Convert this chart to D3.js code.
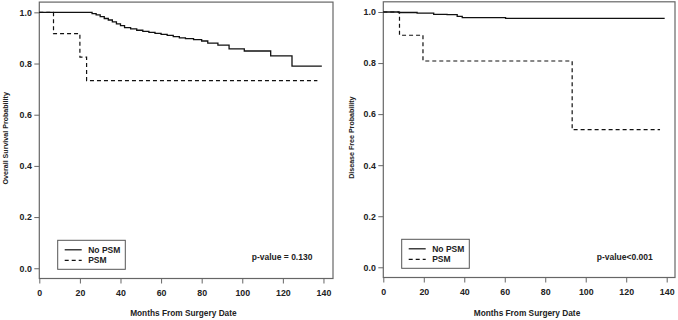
<!DOCTYPE html>
<html>
<head>
<meta charset="utf-8">
<script src="https://cdn.jsdelivr.net/npm/d3@7"></script>
<style>
  body { margin: 0; background: #fff; }
  svg { font-family: "Liberation Sans", Arial, sans-serif; font-weight: bold; }
</style>
</head>
<body>
<svg width="678" height="320"></svg>
<script>
// Kaplan-Meier steps: [month, survival]
const osNoPsm = [[0,1],[26,0.995],[28,0.99],[30,0.983],[32,0.976],[34,0.97],[36,0.963],[38,0.955],[40,0.948],[42,0.94],
  [45,0.935],[48,0.93],[51,0.926],[54,0.922],[57,0.918],[60,0.914],[63,0.91],[66,0.905],[69,0.9],[72,0.897],[76,0.893],
  [80,0.888],[83,0.88],[88,0.872],[93.5,0.857],[101,0.849],[114,0.83],[124.5,0.79],[139.2,0.79]];
const osPsm = [[0,1],[7,0.917],[20,0.825],[23.3,0.733],[137,0.733]];
const dfsNoPsm = [[0,1],[7.6,0.998],[16.7,0.996],[24.9,0.991],[31.5,0.99],[36.5,0.983],[39,0.978],[60.4,0.975],[139,0.975]];
const dfsPsm = [[0,1],[8,0.909],[19.6,0.808],[93.3,0.539],[136.7,0.539]];

const xTicks = [0, 20, 40, 60, 80, 100, 120, 140];
const yTicks = [0, 0.2, 0.4, 0.6, 0.8, 1.0];
const legendLabels = ["No PSM", "PSM"];

const svg = d3.select("svg");

function panel(opts) {
  const x = d3.scaleLinear().domain([0, opts.xMax]).range([opts.left, opts.right]);
  const y = d3.scaleLinear().domain([-0.04, 1.04]).range([opts.bottom, opts.top]);
  const g = svg.append("g");

  // box
  g.append("rect")
    .attr("x", opts.left).attr("y", opts.top)
    .attr("width", opts.right - opts.left).attr("height", opts.bottom - opts.top)
    .attr("fill", "none").attr("stroke", "#666").attr("stroke-width", 1.2);

  const xAxis = g.append("g")
    .attr("transform", `translate(0,${opts.bottom})`)
    .call(d3.axisBottom(x).tickValues(xTicks).tickSize(5).tickPadding(6.5).tickFormat(d3.format("d")));
  const yAxis = g.append("g")
    .attr("transform", `translate(${opts.left},0)`)
    .call(d3.axisLeft(y).tickValues(yTicks).tickSize(5).tickPadding(2.5).tickFormat(d3.format(".1f")));
  [xAxis, yAxis].forEach(a => {
    a.select(".domain").remove();
    a.selectAll("line").attr("stroke", "#666");
    a.selectAll("text").attr("fill", "#222").style("font-size", "8.8px").style("font-weight", "bold");
  });

  const line = d3.line().curve(d3.curveStepAfter).x(d => x(d[0])).y(d => y(d[1]));
  g.append("path").datum(opts.solid).attr("d", line)
    .attr("fill", "none").attr("stroke", "#111").attr("stroke-width", 1.3);
  g.append("path").datum(opts.dashed).attr("d", line)
    .attr("fill", "none").attr("stroke", "#111").attr("stroke-width", 1.2).attr("stroke-dasharray", "4,3");

  // titles
  g.append("text")
    .attr("x", (x(0) + x(140)) / 2 + 2).attr("y", 316)
    .attr("text-anchor", "middle").style("font-size", "8.3px").attr("fill", "#222")
    .text("Months From Surgery Date");
  g.append("text")
    .attr("transform", `translate(${opts.ytitleX},${(y(0) + y(1)) / 2 - 2}) rotate(-90)`)
    .attr("text-anchor", "middle").style("font-size", "7.1px").attr("fill", "#222")
    .text(opts.ytitle);

  // legend
  const lg = g.append("g").attr("transform", `translate(${opts.legX},${opts.legY})`);
  lg.append("rect").attr("width", opts.legW).attr("height", 29)
    .attr("fill", "#fff").attr("stroke", "#555").attr("stroke-width", 1);
  legendLabels.forEach((lab, i) => {
    lg.append("line")
      .attr("x1", 7).attr("x2", 24).attr("y1", 9.5 + i * 10.5).attr("y2", 9.5 + i * 10.5)
      .attr("stroke", "#111").attr("stroke-width", 1.2)
      .attr("stroke-dasharray", i === 1 ? "4,3" : null);
    lg.append("text").attr("x", 30.5).attr("y", 12.5 + i * 10.5)
      .style("font-size", "8.5px").attr("fill", "#222").text(lab);
  });

  g.append("text").attr("x", opts.pX).attr("y", 259.5)
    .style("font-size", "8.5px").attr("fill", "#222").text(opts.pText);
}

panel({
  left: 39.3, right: 333, top: 2.1, bottom: 278.5, xMax: 144.7,
  solid: osNoPsm, dashed: osPsm,
  ytitle: "Overall Survival Probability", ytitleX: 8.3,
  legX: 57.7, legY: 240.3, legW: 67.6,
  pText: "p-value = 0.130", pX: 251.7
});

panel({
  left: 383.3, right: 675, top: 1.8, bottom: 277.5, xMax: 144.1,
  solid: dfsNoPsm, dashed: dfsPsm,
  ytitle: "Disease Free Probability", ytitleX: 353.5,
  legX: 401.7, legY: 239.3, legW: 67.6,
  pText: "p-value<0.001", pX: 596.7
});
</script>
</body>
</html>
